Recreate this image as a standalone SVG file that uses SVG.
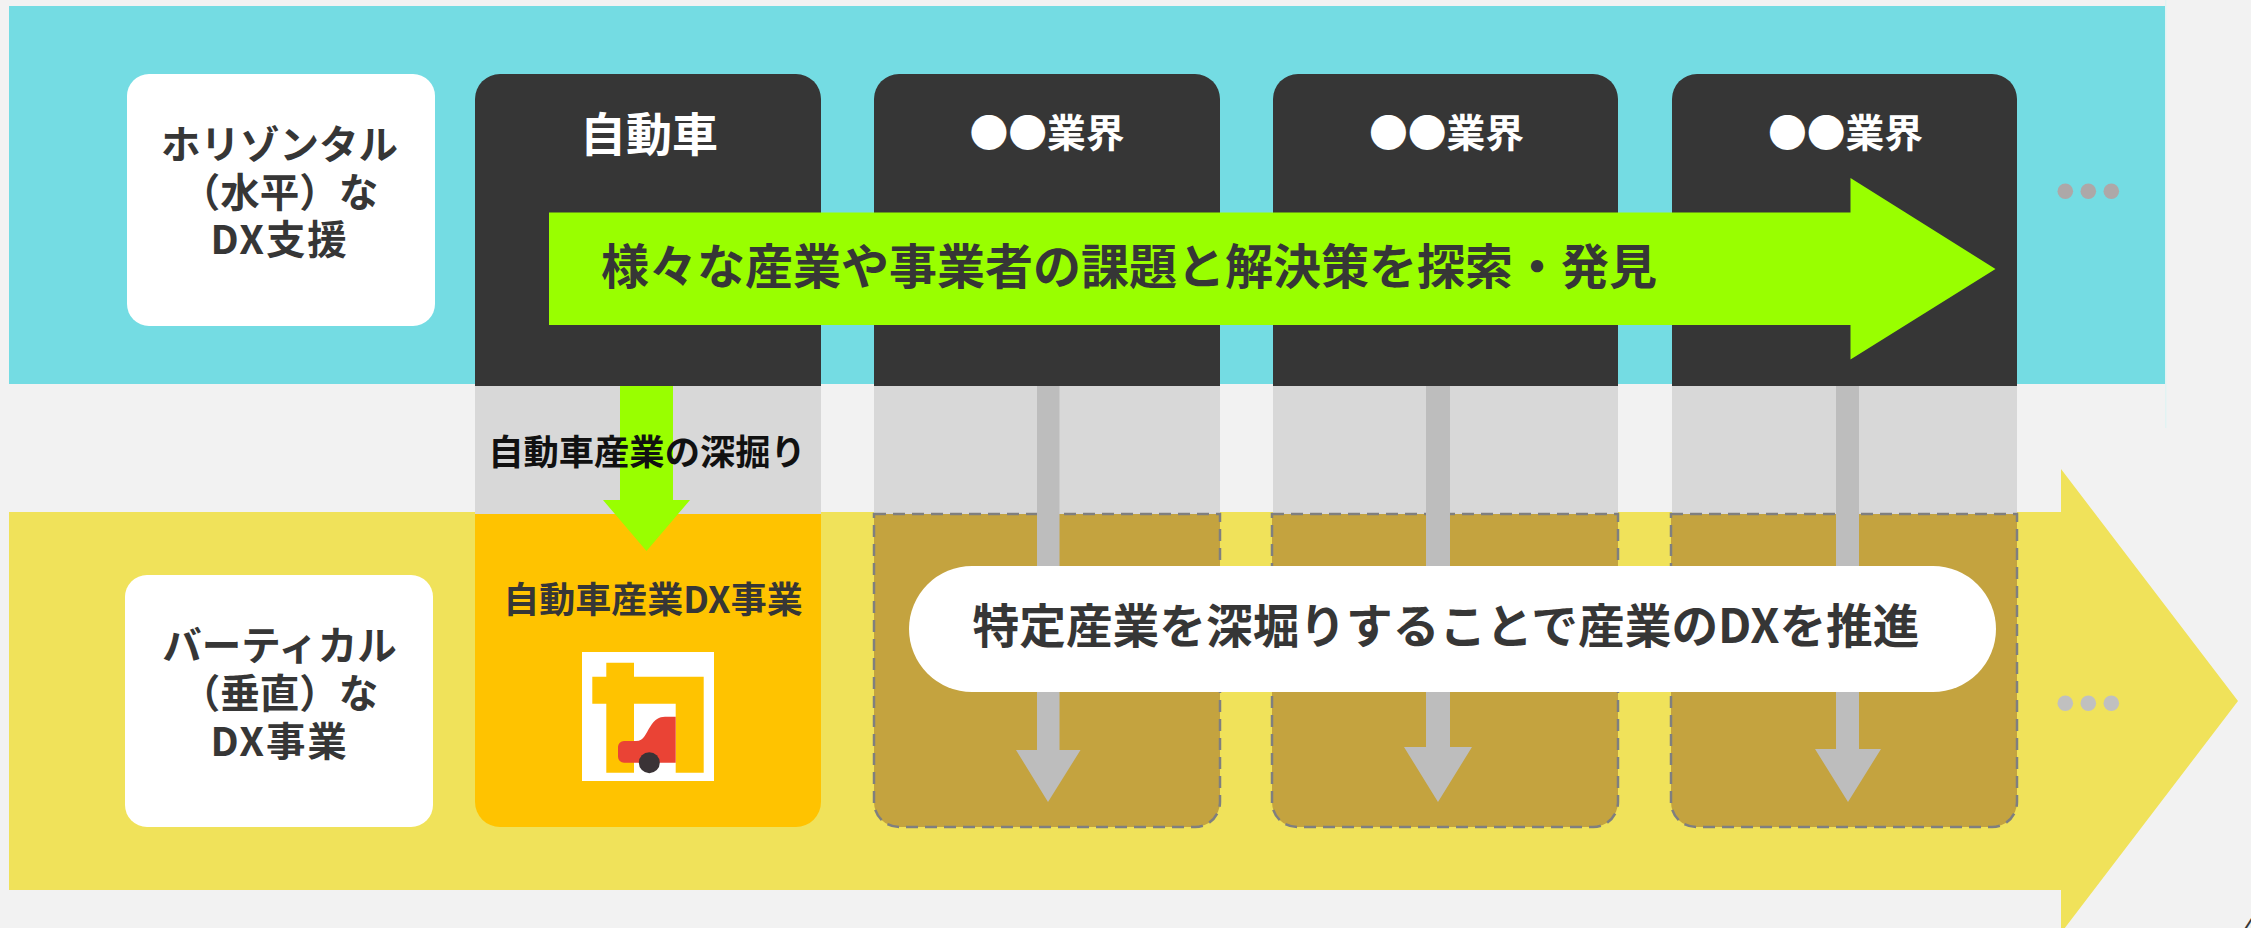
<svg xmlns="http://www.w3.org/2000/svg" width="2251" height="928" viewBox="0 0 2251 928">
<style>
text{font-family:"Noto Sans CJK JP","Noto Sans",sans-serif;font-weight:700;fill:#363636;text-anchor:middle}
.dark{fill:#363636}.panel{fill:#D8D8D8}.white{fill:#FFF}
.brown{fill:#C4A33F;stroke:#7F7F7F;stroke-width:2.5;stroke-dasharray:12 7}
.gray{fill:#BDBDBD}.green{fill:#99FF00}
.head{fill:#FFF;font-weight:700}
.side{font-size:39.500px}
.wide{letter-spacing:1.800px}
</style>
<rect width="2251" height="928" fill="#F2F2F2"/>
<g id="bands">
<rect x="2165" y="0" width="1.5" height="428" fill="#E2F3F3"/>
<rect id="horizontal-band" x="9" y="6" width="2156" height="378" fill="#74DCE3"/>
<polygon id="vertical-band" points="9,512 2061,512 2061,469 2238,701 2061,933 2061,890 9,890" fill="#F0E25A"/>
<g fill="#ADA8A8"><circle cx="2065.3" cy="191.3" r="7.8"/><circle cx="2088.3" cy="191.3" r="7.8"/><circle cx="2111.3" cy="191.3" r="7.8"/></g>
<g fill="#C0C0C0"><circle cx="2065.3" cy="703.3" r="7.8"/><circle cx="2088.3" cy="703.3" r="7.8"/><circle cx="2111.3" cy="703.3" r="7.8"/></g>
</g>
<g id="node-horizontal">
<rect class="white" x="127" y="74" width="308" height="252" rx="22"/>
<text class="side" x="279.500" y="159">ホリゾンタル</text>
<text class="side" x="279.500" y="206.500">（水平）な</text>
<text class="side wide" x="279.500" y="254">DX支援</text>
</g>
<g id="node-vertical">
<rect class="white" x="125" y="575" width="308" height="252" rx="22"/>
<text class="side" x="279.500" y="660">バーティカル</text>
<text class="side" x="279.500" y="707.500">（垂直）な</text>
<text class="side wide" x="279.500" y="755.500">DX事業</text>
</g>
<g id="col-auto">
<path class="dark" d="M475 386V99a25 25 0 0 1 25-25H796a25 25 0 0 1 25 25V386Z"/>
<rect class="panel" x="475" y="386" width="346" height="128"/>
<path fill="#FFC300" d="M475 514H821V802a25 25 0 0 1-25 25H500a25 25 0 0 1-25-25Z"/>
<text class="head" x="649" y="151" font-size="46">自動車</text>
</g>
<g id="col-2">
<path class="dark" d="M874 386V99a25 25 0 0 1 25-25H1195a25 25 0 0 1 25 25V386Z"/>
<rect class="panel" x="874" y="386" width="346" height="128"/>
<path class="brown" d="M874 514H1220V802a25 25 0 0 1-25 25H899a25 25 0 0 1-25-25Z"/>
<text class="head" x="1047" y="147" font-size="38.800">●●業界</text>
</g>
<g id="col-3">
<path class="dark" d="M1273 386V99a25 25 0 0 1 25-25H1593a25 25 0 0 1 25 25V386Z"/>
<rect class="panel" x="1273" y="386" width="345" height="128"/>
<path class="brown" d="M1272 514H1618V802a25 25 0 0 1-25 25H1297a25 25 0 0 1-25-25Z"/>
<text class="head" x="1446.500" y="147" font-size="38.800">●●業界</text>
</g>
<g id="col-4">
<path class="dark" d="M1672 386V99a25 25 0 0 1 25-25H1992a25 25 0 0 1 25 25V386Z"/>
<rect class="panel" x="1672" y="386" width="345" height="128"/>
<path class="brown" d="M1671 514H2017V802a25 25 0 0 1-25 25H1696a25 25 0 0 1-25-25Z"/>
<text class="head" x="1845.500" y="147" font-size="38.800">●●業界</text>
</g>
<g id="connectors">
<polygon class="green" points="620,386 673,386 673,500 690,500 646.500,551 603,500 620,500"/>
<polygon class="gray" points="1037,386 1059.500,386 1059.500,750 1080.500,750 1048,802 1016,750 1037,750"/>
<polygon class="gray" points="1426,386 1450,386 1450,747 1472,747 1438,802 1404,747 1426,747"/>
<polygon class="gray" points="1836,386 1859,386 1859,749 1881,749 1848,802 1815,749 1836,749"/>
</g>
<g id="label-dig">
<text x="647" y="465" font-size="35.300" style="fill:#111">自動車産業の深掘り</text>
</g>
<g id="node-auto-dx">
<text x="653" y="613" font-size="36">自動車産業DX事業</text>
<rect class="white" x="582" y="652" width="132" height="129"/>
<path fill="#FFC300" d="M606.300 662.700H634V676.700H703.700V772.700H675.700V703.700H634V772.700H606.300V703.700H592.300V676.700H606.300Z"/>
<path fill="#EA4335" d="M675.700 716.700V762.700H624a6 6 0 0 1-6-6V747a6 6 0 0 1 6-6H636c8 0 10-8 14-14c5-8 9-10 15-10.300Z"/>
<circle cx="649.300" cy="762.700" r="10.500" fill="#3A3336"/>
</g>
<g id="node-explore">
<polygon class="green" points="549,212.500 1850.500,212.500 1850.500,178 1995.500,269 1850.500,359.500 1850.500,325 549,325"/>
<text x="1129" y="284" font-size="48">様々な産業や事業者の課題と解決策を探索・発見</text>
</g>
<g id="node-deepen">
<rect class="white" x="909" y="566" width="1087" height="126" rx="63"/>
<text x="1446" y="643" font-size="46.700">特定産業を深堀りすることで産業のDXを推進</text>
</g>
<text x="2250" y="937" font-size="26" style="font-weight:400">4</text>
</svg>
